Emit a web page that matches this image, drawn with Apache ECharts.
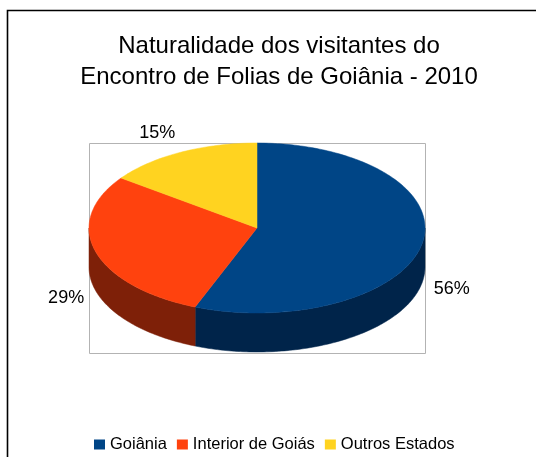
<!DOCTYPE html>
<html>
<head>
<meta charset="utf-8">
<script src="https://cdn.jsdelivr.net/npm/echarts@6/dist/echarts.min.js"></script>
<style>html,body{margin:0;padding:0;background:#fff}#c{width:536px;height:457px}</style>
</head>
<body>
<div id="c"></div>
<script>
const categories = ['Goiânia', 'Interior de Goiás', 'Outros Estados'];
const values = [56, 29, 15];
const topColors = ['#004586', '#ff420e', '#ffd320'];
const sideColors = ['#00244a', '#7e2008', '#806910'];
const titleText = 'Naturalidade dos visitantes do\nEncontro de Folias de Goiânia - 2010';

const CX = 257, CY = 228, RX = 168, RY = 85, DEPTH = 39;
const total = values.reduce((a, b) => a + b, 0);
const FONT = '"Liberation Sans", Arial, sans-serif';

function pt(deg, dy) {
  const r = deg * Math.PI / 180;
  return [CX + RX * Math.cos(r), CY - RY * Math.sin(r) + (dy || 0)];
}
function arc(from, to, dy) {
  const pts = [];
  const n = Math.max(2, Math.ceil(Math.abs(from - to) / 1));
  for (let k = 0; k <= n; k++) pts.push(pt(from + (to - from) * k / n, dy));
  return pts;
}

function makeRender(i) {
  return function (params, api) {
    let before = 0;
    for (let j = 0; j < i; j++) before += values[j];
    const v = api.value(0);
    const a1 = 90 - 360 * before / total;
    const a2 = 90 - 360 * (before + v) / total;
    const children = [];
    // side faces (front half only)
    for (let k = -1; k <= 1; k++) {
      const lo = Math.max(a2, -180 + 360 * k);
      const hi = Math.min(a1, 360 * k);
      if (hi > lo) {
        const topArc = arc(hi, lo, 0);
        const botArc = arc(lo, hi, DEPTH);
        children.push({
          type: 'polygon', z2: 1,
          shape: { points: topArc.concat(botArc) },
          style: { fill: sideColors[i], stroke: sideColors[i], lineWidth: 0.5 }
        });
      }
    }
    // top face
    children.push({
      type: 'polygon', z2: 2,
      shape: { points: [[CX, CY]].concat(arc(a1, a2, 0)) },
      style: { fill: topColors[i], stroke: topColors[i], lineWidth: 0.5 }
    });
    // label
    const mid = (a1 + a2) / 2 * Math.PI / 180;
    const c = Math.cos(mid), s = Math.sin(mid);
    const lx = CX + (RX + 12) * c;
    const ly = CY - (RY + 12) * s + (s < 0 ? DEPTH + 4 : 0);
    children.push({
      type: 'text', z2: 3,
      x: lx, y: ly,
      style: {
        text: Math.round(v / total * 100) + '%',
        fill: '#000', font: '18px ' + FONT,
        align: c < 0 ? 'right' : 'left',
        verticalAlign: s > 0 ? 'bottom' : 'middle'
      }
    });
    return { type: 'group', children: children };
  };
}

const chart = echarts.init(document.getElementById('c'), null, { renderer: 'canvas' });
chart.setOption({
  animation: false,
  backgroundColor: '#fff',
  title: {
    text: titleText,
    left: 274, top: 26, textAlign: 'center',
    textStyle: { fontFamily: FONT, fontSize: 24, fontWeight: 'normal', color: '#000', lineHeight: 31 }
  },
  legend: {
    data: categories,
    left: 94, top: 436, padding: 0,
    icon: 'rect', itemWidth: 11, itemHeight: 10, itemGap: 10,
    selectedMode: false,
    textStyle: { fontFamily: FONT, fontSize: 16.5, color: '#000', padding: [0, 0, 0, 0] }
  },
  graphic: [
    { type: 'rect', shape: { x: 7.5, y: 10.5, width: 700, height: 700 }, style: { fill: 'none', stroke: '#000', lineWidth: 1.6 }, z: -1 },
    { type: 'rect', shape: { x: 89.5, y: 143.5, width: 336, height: 210 }, style: { fill: 'none', stroke: '#b3b3b3', lineWidth: 1 }, z: -1 }
  ],
  series: categories.map((name, i) => ({
    type: 'custom',
    name: name,
    coordinateSystem: 'none',
    itemStyle: { color: topColors[i] },
    data: [values[i]],
    renderItem: makeRender(i)
  }))
});
</script>
</body>
</html>
